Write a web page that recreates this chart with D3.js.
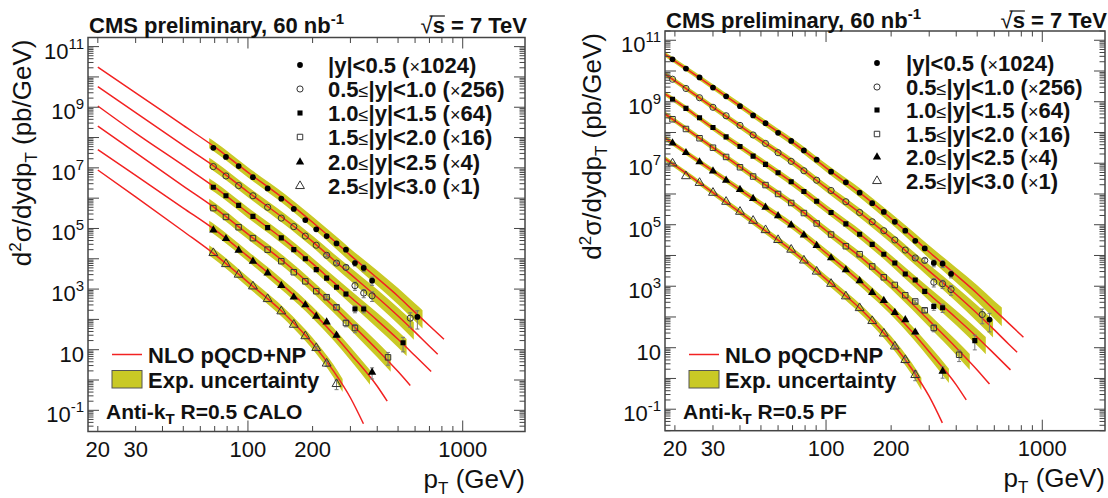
<!DOCTYPE html>
<html>
<head>
<meta charset="utf-8">
<script src="https://cdn.jsdelivr.net/npm/d3@7"></script>
<style>
  body { margin: 0; background: #fff; }
  svg { display: block; font-family: "Liberation Sans", Arial, Helvetica, sans-serif; }
</style>
</head>
<body>
<svg id="chart" width="1108" height="498"></svg>
<script>
// axis ranges
const ptRange = [18, 1950];
const xsRange = [0.02, 2e11];

// NLO pQCD+NP curves, already multiplied by the legend factors
const nlo0 = [[18,3.5e10],[20,2.1e10],[30,3.0e9],[50,2.5e8],[70,4.9e7],[100,7.1e6],[150,8.5e5],[200,1.6e5],[250,4.1e4],[300,1.3e4],[400,2.3e3],[500,5.8e2],[600,1.7e2],[700,62],[818,22]];
const nlo1 = [[18,7.9e9],[20,4.8e9],[30,6.6e8],[50,5.5e7],[70,1.1e7],[100,1.6e6],[150,1.9e5],[200,3.7e4],[250,9.3e3],[300,3.1e3],[400,5.4e2],[500,1.3e2],[600,38],[700,13],[765,7.1]];
const nlo2 = [[18,1.8e9],[20,1.1e9],[30,1.4e8],[50,1.2e7],[70,2.3e6],[100,3.3e5],[150,3.8e4],[200,6.9e3],[250,1.7e3],[300,5.5e2],[400,93],[500,22],[600,6.3],[713,1.9]];
const nlo3 = [[18,4.0e8],[20,2.4e8],[30,3.2e7],[50,2.5e6],[70,4.8e5],[100,6.5e4],[150,7.1e3],[200,1.2e3],[250,2.7e2],[300,76],[400,10],[500,1.9],[570,0.66]];
const nlo4 = [[18,6.6e7],[20,4.0e7],[30,5.6e6],[50,4.7e5],[70,9.1e4],[100,1.2e4],[150,1.1e3],[200,1.7e2],[250,33],[300,7.4],[400,0.62],[445,0.20]];
const nlo5 = [[18,1.4e7],[20,8.5e6],[30,1.1e6],[50,8.1e4],[70,1.4e4],[100,1.7e3],[150,1.4e2],[200,16],[250,2.0],[300,0.26],[345,0.036]];

// experimental uncertainty band: multiplicative half width around NLO
const bandPt = [18, 30, 60, 100, 200, 300, 400, 500, 650];
const caloBandFactor = [1.48, 1.48, 1.48, 1.48, 1.55, 1.66, 1.78, 1.86, 2.0];
const pfBandFactor = [1.2, 1.23, 1.29, 1.35, 1.48, 1.62, 1.74, 1.86, 2.0];
const bandEnd = [650, 592, 548, 462, 370, 276];

// measured points [pT, dsigma, relative error]
const calo0 = [[69,4.6e7],[79,2.3e7],[90.5,1.15e7],[105.5,4.9e6],[123.5,2.1e6],[143,9.6e5],[163.5,4.4e5],[185,1.9e5],[208,9.4e4],[232.5,5.6e4],[258.5,3.2e4],[286,2.0e4,0.1],[315,7.2e3,0.2],[346,5.0e3,0.25],[378.5,1.9e3,0.3],[615,1.2e2,0.6]];
const calo1 = [[69,1.1e7],[79,5.4e6],[90.5,2.6e6],[105.5,1.2e6],[123.5,5.0e5],[143,2.2e5],[163.5,1.15e5],[185,5.6e4],[208,2.8e4],[232.5,1.3e4,0.1],[258.5,7.2e3,0.12],[286,5.2e3,0.15],[315,1.3e3,0.3],[346,7.4e2,0.3],[378.5,6.0e2,0.35],[570,1.1e2,0.5]];
const calo2 = [[69,2.3e6],[79,1.2e6],[90.5,5.8e5],[105.5,2.5e5],[123.5,1.07e5],[143,4.9e4],[163.5,2.0e4],[185,1.0e4],[208,4.4e3],[232.5,2.3e3],[258.5,1.15e3,0.1],[286,6.9e2,0.15],[315,2.2e2,0.25],[346,2.2e2,0.25],[527.5,17,0.5]];
const calo3 = [[69,4.7e5],[79,2.4e5],[90.5,1.1e5],[105.5,4.8e4],[123.5,2.0e4],[143,8.3e3],[163.5,3.6e3],[185,1.8e3],[208,8.5e2],[232.5,5.4e2,0.1],[258.5,2.5e2,0.15],[286,76,0.25],[315,52,0.3],[449,5.6,0.45]];
const calo4 = [[69,8.9e4],[79,4.6e4],[90.5,1.9e4],[105.5,8.3e3],[123.5,3.4e3],[143,1.3e3],[163.5,5.4e2],[185,3.0e2],[208,1.26e2],[232.5,81,0.1],[258.5,30,0.15],[378.5,1.8,0.4]];
const calo5 = [[69,1.55e4],[79,6.7e3],[90.5,3.0e3],[105.5,1.23e3],[123.5,4.7e2],[143,1.85e2],[163.5,67],[185,28],[208,11.4,0.1],[232.5,3.5,0.2],[258.5,0.74,0.35]];

const pf0 = [[19.5,2.4e10],[22.5,1.2e10],[26,6.2e9],[30,2.9e9],[34.5,1.5e9],[40,7.2e8],[46,3.6e8],[52.5,2.0e8],[60,9.8e7],[69,5.3e7],[79,2.6e7],[90.5,1.3e7],[105.5,5.3e6],[123.5,2.4e6],[143,1.1e6],[163.5,5.0e5],[185,2.6e5],[208,1.25e5],[232.5,6.4e4],[258.5,3.0e4],[286,1.7e4,0.1],[315,5.7e3,0.25],[346,5.4e3,0.25],[378.5,2.5e3,0.25],[570,82,0.6]];
const pf1 = [[19.5,5.4e9],[22.5,2.7e9],[26,1.35e9],[30,6.6e8],[34.5,3.5e8],[40,1.7e8],[46,8.3e7],[52.5,4.4e7],[60,2.2e7],[69,1.15e7],[79,5.7e6],[90.5,2.8e6],[105.5,1.3e6],[123.5,5.6e5],[143,2.5e5],[163.5,1.25e5],[185,6.4e4],[208,3.2e4],[232.5,1.5e4],[258.5,8.3e3,0.1],[286,6.9e3,0.15],[315,1.35e3,0.3],[346,1.2e3,0.3],[378.5,7.8e2,0.35],[527.5,1.2e2,0.5]];
const pf2 = [[19.5,1.2e9],[22.5,6.1e8],[26,3.0e8],[30,1.45e8],[34.5,7.2e7],[40,3.5e7],[46,1.7e7],[52.5,9.2e6],[60,4.9e6],[69,2.5e6],[79,1.2e6],[90.5,5.8e5],[105.5,2.5e5],[123.5,1.07e5],[143,4.9e4],[163.5,2.3e4],[185,1.1e4],[208,5.7e3],[232.5,2.5e3],[258.5,1.6e3,0.1],[286,6.8e2,0.15],[315,2.2e2,0.25],[346,2.0e2,0.3],[487.5,17,0.5]];
const pf3 = [[19.5,2.7e8],[22.5,1.3e8],[26,6.5e7],[30,3.2e7],[34.5,1.6e7],[40,7.4e6],[46,3.7e6],[52.5,1.95e6],[60,1.0e6],[69,5.1e5],[79,2.4e5],[90.5,1.1e5],[105.5,4.8e4],[123.5,2.0e4],[143,1.1e4],[163.5,4.4e3],[185,1.95e3],[208,1.1e3],[232.5,5.1e2],[258.5,3.2e2,0.1],[286,1.65e2,0.15],[315,44,0.25],[412.5,5.9,0.4]];
const pf4 = [[19.5,4.5e7],[22.5,2.2e7],[26,1.1e7],[30,5.6e6],[34.5,2.8e6],[40,1.4e6],[46,7.1e5],[52.5,3.7e5],[60,1.95e5],[69,9.8e4],[79,4.6e4],[90.5,2.1e4],[105.5,8.3e3],[123.5,3.4e3],[143,1.5e3],[163.5,6.2e2],[185,3.4e2],[208,1.4e2],[232.5,81,0.1],[258.5,32,0.15],[346,1.7,0.4]];
const pf5 = [[19.5,9.9e6],[22.5,3.8e6],[26,2.3e6],[30,1.1e6],[34.5,5.6e5],[40,2.65e5],[46,1.35e5],[52.5,6.7e4],[60,3.2e4],[69,1.55e4],[79,6.9e3],[90.5,3.0e3],[105.5,1.2e3],[123.5,4.7e2],[143,1.95e2],[163.5,74],[185,29],[208,11,0.1],[232.5,4.0,0.2],[258.5,1.3,0.35]];

const binLabels = ["|y|<0.5 (×1024)", "0.5≤|y|<1.0 (×256)", "1.0≤|y|<1.5 (×64)", "1.5≤|y|<2.0 (×16)", "2.0≤|y|<2.5 (×4)", "2.5≤|y|<3.0 (×1)"];
const xLabelTicks = [20, 30, 100, 200, 1000];
const yLabelTicks = [1e-1, 1e1, 1e3, 1e5, 1e7, 1e9, 1e11];

const nloCurves = [nlo0, nlo1, nlo2, nlo3, nlo4, nlo5];
const red = "#f22222";
const bandColour = "#c9c925";
const frameColour = "#444";

const panels = [
  { id: "calo", left: 88, right: 525, top: 37.5, bottom: 431.5, nloFrom: 20, bandFrom: 66,
    factor: caloBandFactor, data: [calo0, calo1, calo2, calo3, calo4, calo5], algo: " R=0.5 CALO",
    titleY: 33, legX: 300, legTextX: 328, legY: [65, 89, 113, 137, 162, 186],
    bottomLegX: 112, yTitleX: 31 },
  { id: "pf", left: 665, right: 1105, top: 31, bottom: 430.7, nloFrom: 18, bandFrom: 18,
    factor: pfBandFactor, data: [pf0, pf1, pf2, pf3, pf4, pf5], algo: " R=0.5 PF",
    titleY: 28, legX: 877, legTextX: 906, legY: [63, 87, 110, 134, 157, 181],
    bottomLegX: 689, yTitleX: 601 }
];

const symbols = [
  { type: d3.symbolCircle, size: 26, filled: true },
  { type: d3.symbolCircle, size: 30, filled: false },
  { type: d3.symbolSquare, size: 26, filled: true },
  { type: d3.symbolSquare, size: 30, filled: false },
  { type: d3.symbolTriangle, size: 30, filled: true },
  { type: d3.symbolTriangle, size: 34, filled: false }
];

const svg = d3.select("#chart");

function logInterp(pairs, v) {
  const lv = Math.log10(v);
  for (let i = 1; i < pairs.length; i++) {
    if (v <= pairs[i][0] || i === pairs.length - 1) {
      const a = pairs[i - 1], b = pairs[i];
      const t = (lv - Math.log10(a[0])) / (Math.log10(b[0]) - Math.log10(a[0]));
      return Math.pow(10, Math.log10(a[1]) + t * (Math.log10(b[1]) - Math.log10(a[1])));
    }
  }
}

// writes text where ≤ and × come from the symbol font (normal weight)
function richText(sel, str) {
  str.split(/([≤×])/).forEach((part) => {
    if (!part) return;
    const t = sel.append("tspan").text(part);
    if (part === "≤" || part === "×") t.attr("font-weight", "normal").attr("font-size", 18);
  });
}

function drawSymbol(g, s, cx, cy) {
  g.append("path")
    .attr("d", d3.symbol().type(s.type).size(s.size)())
    .attr("transform", `translate(${cx},${cy})`)
    .attr("fill", s.filled ? "#000" : "none")
    .attr("stroke", s.filled ? "none" : "#333")
    .attr("stroke-width", 1);
}

panels.forEach((p) => {
  const x = d3.scaleLog().domain(ptRange).range([p.left, p.right]);
  const y = d3.scaleLog().domain(xsRange).range([p.bottom, p.top]);
  const factorPairs = d3.zip(bandPt, p.factor);

  svg.append("clipPath").attr("id", "clip-" + p.id)
    .append("rect")
    .attr("x", p.left).attr("y", p.top)
    .attr("width", p.right - p.left).attr("height", p.bottom - p.top);

  const plot = svg.append("g").attr("clip-path", `url(#clip-${p.id})`);

  // uncertainty bands
  const area = d3.area()
    .x((d) => x(d.pt))
    .y0((d) => y(d.v / d.f))
    .y1((d) => y(d.v * d.f))
    .curve(d3.curveMonotoneX);

  nloCurves.forEach((nlo, i) => {
    const lo = p.bandFrom, hi = bandEnd[i];
    const pts = Array.from(new Set([lo, hi, ...nlo.map((d) => d[0]), ...bandPt]))
      .filter((v) => v >= lo && v <= hi)
      .sort((a, b) => a - b)
      .map((pt) => ({ pt, v: logInterp(nlo, pt), f: logInterp(factorPairs, pt) }));
    plot.append("path").attr("d", area(pts)).attr("fill", bandColour);
  });

  // theory lines
  const line = d3.line().x((d) => x(d[0])).y((d) => y(d[1])).curve(d3.curveMonotoneX);
  nloCurves.forEach((nlo) => {
    plot.append("path")
      .attr("d", line(nlo.filter((d) => d[0] >= p.nloFrom)))
      .attr("fill", "none").attr("stroke", red).attr("stroke-width", 1.5);
  });

  // data points with error bars
  p.data.forEach((series, i) => {
    series.filter((d) => d[2]).forEach((d) => {
      const cx = x(d[0]);
      const y1 = y(d[1] * (1 + d[2])), y2 = y(d[1] * Math.max(0.05, 1 - d[2]));
      plot.append("line").attr("x1", cx).attr("x2", cx).attr("y1", y1).attr("y2", y2)
        .attr("stroke", "#777").attr("stroke-width", 1);
      [y1, y2].forEach((yy) => plot.append("line")
        .attr("x1", cx - 2).attr("x2", cx + 2).attr("y1", yy).attr("y2", yy)
        .attr("stroke", "#777").attr("stroke-width", 1));
    });
    series.forEach((d) => drawSymbol(plot, symbols[i], x(d[0]), y(d[1])));
  });

  // frame and ticks on all four sides
  const axes = svg.append("g").attr("stroke", frameColour).attr("stroke-width", 1);
  const xTicks = [];
  [10, 100, 1000].forEach((dec) => d3.range(1, 10).forEach((m) => xTicks.push(m * dec)));
  xTicks.filter((v) => v >= ptRange[0] && v <= ptRange[1]).forEach((v) => {
    const len = (v === 100 || v === 1000) ? 11 : 5.5;
    const px = x(v);
    axes.append("line").attr("x1", px).attr("x2", px).attr("y1", p.bottom).attr("y2", p.bottom - len);
    axes.append("line").attr("x1", px).attr("x2", px).attr("y1", p.top).attr("y2", p.top + len);
  });
  const yTicks = [];
  d3.range(-2, 12).forEach((e) => d3.range(1, 10).forEach((m) => yTicks.push({ v: m * Math.pow(10, e), major: m === 1 })));
  yTicks.filter((t) => t.v >= xsRange[0] && t.v <= xsRange[1]).forEach((t) => {
    const len = t.major ? 11 : 5.5;
    const py = y(t.v);
    axes.append("line").attr("x1", p.left).attr("x2", p.left + len).attr("y1", py).attr("y2", py);
    axes.append("line").attr("x1", p.right).attr("x2", p.right - len).attr("y1", py).attr("y2", py);
  });
  svg.append("rect")
    .attr("x", p.left).attr("y", p.top)
    .attr("width", p.right - p.left).attr("height", p.bottom - p.top)
    .attr("fill", "none").attr("stroke", frameColour).attr("stroke-width", 1.5);

  // tick labels
  xLabelTicks.forEach((v) => {
    svg.append("text").attr("x", x(v)).attr("y", p.bottom + 25)
      .attr("text-anchor", "middle").attr("font-size", 22).attr("fill", "#111").text(v);
  });
  yLabelTicks.forEach((v) => {
    const e = Math.round(Math.log10(v));
    const t = svg.append("text").attr("x", p.left - 4).attr("y", y(v) + 12)
      .attr("text-anchor", "end").attr("font-size", 22).attr("fill", "#111");
    t.append("tspan").text("10");
    if (e !== 1) t.append("tspan").attr("font-size", 15).attr("dy", -10).text(e);
  });

  // axis titles
  const xt = svg.append("text").attr("x", p.right).attr("y", p.bottom + 56)
    .attr("text-anchor", "end").attr("font-size", 26).attr("fill", "#111");
  xt.append("tspan").text("p");
  xt.append("tspan").attr("font-size", 17).attr("dy", 6).text("T");
  xt.append("tspan").attr("dy", -6).text(" (GeV)");

  const yt = svg.append("text")
    .attr("transform", `translate(${p.yTitleX},${p.top + 2}) rotate(-90)`)
    .attr("text-anchor", "end").attr("font-size", 26).attr("fill", "#111");
  yt.append("tspan").text("d");
  yt.append("tspan").attr("font-size", 17).attr("dy", -10).text("2");
  yt.append("tspan").attr("dy", 10).text("σ/dydp");
  yt.append("tspan").attr("font-size", 17).attr("dy", 6).text("T");
  yt.append("tspan").attr("dy", -6).text("  (pb/GeV)");

  // header
  const h = svg.append("text").attr("x", p.left + 1).attr("y", p.titleY)
    .attr("font-size", 22).attr("font-weight", "bold").attr("fill", "#111");
  h.append("tspan").text("CMS preliminary, 60 nb");
  h.append("tspan").attr("font-size", 15).attr("dy", -9).text("-1");

  const rs = svg.append("text").attr("x", p.right + 2).attr("y", p.titleY)
    .attr("text-anchor", "end").attr("font-size", 22).attr("font-weight", "bold").attr("fill", "#111");
  rs.append("tspan").attr("font-weight", "normal").text("√");
  rs.append("tspan").text("s = 7 TeV");
  const node = rs.node();
  const sx0 = node.getStartPositionOfChar(0).x + 9, sx1 = node.getEndPositionOfChar(1).x;
  svg.append("line").attr("x1", sx0).attr("x2", sx1).attr("y1", p.titleY - 17).attr("y2", p.titleY - 17)
    .attr("stroke", "#111").attr("stroke-width", 1.2);

  // rapidity legend
  binLabels.forEach((lab, i) => {
    drawSymbol(svg, symbols[i], p.legX, p.legY[i]);
    const t = svg.append("text").attr("x", p.legTextX).attr("y", p.legY[i] + 8)
      .attr("font-size", 22).attr("font-weight", "bold").attr("fill", "#111");
    richText(t, lab);
  });

  // theory / band legend
  const bx = p.bottomLegX;
  svg.append("line").attr("x1", bx).attr("x2", bx + 30).attr("y1", 354.5).attr("y2", 354.5)
    .attr("stroke", red).attr("stroke-width", 1.5);
  svg.append("text").attr("x", bx + 36).attr("y", 362.5).attr("font-size", 22)
    .attr("font-weight", "bold").attr("fill", "#111").text("NLO pQCD+NP");
  svg.append("rect").attr("x", bx).attr("y", 370.5).attr("width", 30).attr("height", 17.5)
    .attr("fill", bandColour).attr("stroke", "#555").attr("stroke-width", 1);
  svg.append("text").attr("x", bx + 36).attr("y", 387.5).attr("font-size", 22)
    .attr("font-weight", "bold").attr("fill", "#111").text("Exp. uncertainty");

  const al = svg.append("text").attr("x", bx - 6).attr("y", 419)
    .attr("font-size", 21).attr("font-weight", "bold").attr("fill", "#111");
  al.append("tspan").text("Anti-k");
  al.append("tspan").attr("font-size", 15).attr("dy", 5).text("T");
  al.append("tspan").attr("dy", -5).text(p.algo);
});
</script>
</body>
</html>
